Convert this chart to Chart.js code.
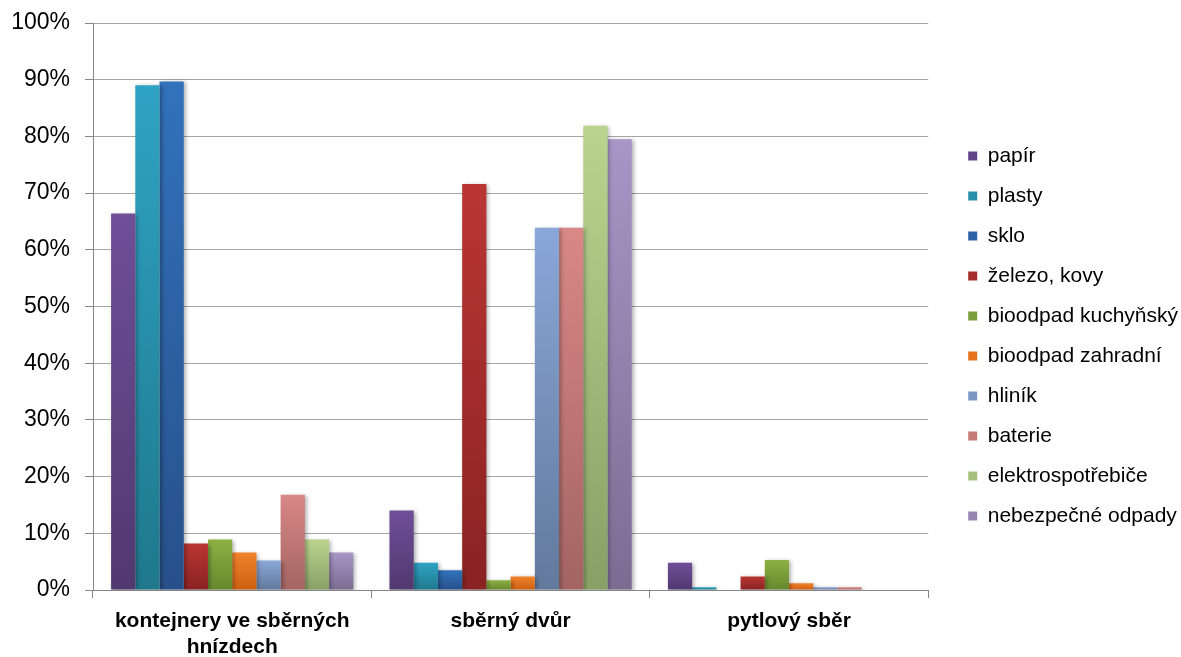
<!DOCTYPE html>
<html>
<head>
<meta charset="utf-8">
<script src="https://cdn.jsdelivr.net/npm/chart.js@4"></script>
<style>
  body { margin: 0; background: #fff; }
  #wrap { width: 1181px; height: 657px; position: relative; }
</style>
</head>
<body>
<div id="wrap"><canvas id="chart"></canvas></div>
<script>
const categories = [['kontejnery ve sběrných', 'hnízdech'], 'sběrný dvůr', 'pytlový sběr'];
const seriesNames = ['papír', 'plasty', 'sklo', 'železo, kovy', 'bioodpad kuchyňský',
  'bioodpad zahradní', 'hliník', 'baterie', 'elektrospotřebiče', 'nebezpečné odpady'];

// shares in %, one value per category
const papir = [66.4, 14.0, 4.8];
const plasty = [89.0, 4.8, 0.5];
const sklo = [89.7, 3.5, 0];
const zelezo = [8.2, 71.6, 2.4];
const bioKuchynsky = [8.9, 1.7, 5.3];
const bioZahradni = [6.6, 2.4, 1.2];
const hlinik = [5.2, 63.9, 0.5];
const baterie = [16.8, 63.9, 0.5];
const elektro = [8.9, 81.9, 0];
const nebezpecne = [6.6, 79.5, 0];

const yTicks = [0, 10, 20, 30, 40, 50, 60, 70, 80, 90, 100];

const seriesValues = [papir, plasty, sklo, zelezo, bioKuchynsky, bioZahradni, hlinik, baterie, elektro, nebezpecne];

// gradient colours (top -> bottom of each bar), plus flat colour for the legend
const topColors = ['#6F4F98', '#2FA3C4', '#3272BC', '#BA3634', '#8DB043', '#F2822C', '#89A7D8', '#D98886', '#BAD48F', '#A796C6'];
const bottomColors = ['#503870', '#1F788C', '#27508A', '#892222', '#66882E', '#CC6010', '#63799C', '#A36462', '#88A066', '#7C6C92'];
const legendColors = ['#604487', '#2A8FAA', '#2D62A6', '#A52D2B', '#7C9E3A', '#E6721C', '#7C97C4', '#C67A78', '#A7C07E', '#9585B0'];

const barFill = (i) => (ctx) => {
  const chart = ctx.chart;
  const y = chart.scales.y;
  if (!chart.chartArea || !y || ctx.raw == null) return legendColors[i];
  const top = y.getPixelForValue(ctx.raw);
  const bottom = y.getPixelForValue(0);
  if (bottom - top < 1) return topColors[i];
  const g = chart.ctx.createLinearGradient(0, top, 0, bottom);
  g.addColorStop(0, topColors[i]);
  g.addColorStop(1, bottomColors[i]);
  return g;
};

const barShadow = {
  id: 'barShadow',
  beforeDatasetsDraw(chart) {
    const c = chart.ctx;
    c.save();
    c.shadowColor = 'rgba(0,0,0,0.3)';
    c.shadowBlur = 4;
    c.shadowOffsetX = 2;
    c.shadowOffsetY = 1;
  },
  afterDatasetsDraw(chart) {
    chart.ctx.restore();
  },
};

const axisGray = '#868686';

new Chart(document.getElementById('chart'), {
  type: 'bar',
  data: {
    labels: categories,
    datasets: seriesNames.map((name, i) => ({
      label: name,
      data: seriesValues[i],
      backgroundColor: barFill(i),
      borderWidth: 0,
      categoryPercentage: 0.87,
      barPercentage: 1,
    })),
  },
  options: {
    responsive: true,
    maintainAspectRatio: false,
    animation: false,
    layout: { padding: { top: 23, right: -7, bottom: 0, left: 0 } },
    scales: {
      x: {
        afterFit: (scale) => { scale.height = 67; },
        grid: { display: true, drawOnChartArea: false, drawTicks: true, tickLength: 8, color: axisGray, offset: true },
        border: { color: axisGray },
        ticks: {
          color: '#000',
          padding: 11,
          maxRotation: 0,
          font: { family: '"Liberation Sans", Arial, sans-serif', size: 21, weight: 'bold' },
        },
      },
      y: {
        min: 0,
        max: 100,
        afterBuildTicks: (scale) => { scale.ticks = yTicks.map((v) => ({ value: v })); },
        afterFit: (scale) => {
          scale.width = 93;
          scale.paddingTop = 0;
          scale.paddingBottom = 0;
        },
        grid: { color: '#a6a6a6', tickLength: 8, tickColor: axisGray },
        border: { color: axisGray },
        ticks: {
          color: '#000',
          padding: 15,
          callback: (v) => v + '%',
          font: { family: '"Liberation Sans", Arial, sans-serif', size: 23 },
        },
      },
      gap: {
        type: 'linear',
        position: 'right',
        display: true,
        grid: { display: false },
        border: { display: false },
        ticks: { display: false },
        afterFit: (scale) => { scale.width = 21; },
      },
    },
    plugins: {
      tooltip: { enabled: false },
      legend: {
        position: 'right',
        align: 'start',
        maxWidth: 320,
        // empty title only pushes the legend column down
        title: { display: true, text: '', padding: 0, font: { size: 10, lineHeight: 10.35 } },
        labels: {
          color: '#000',
          boxWidth: 9,
          boxHeight: 9,
          padding: 19,
          font: { family: '"Liberation Sans", Arial, sans-serif', size: 21 },
          generateLabels: (chart) =>
            Chart.defaults.plugins.legend.labels.generateLabels(chart).map((item, i) => ({
              ...item,
              fillStyle: legendColors[i],
              strokeStyle: legendColors[i],
              lineWidth: 0,
            })),
        },
      },
    },
  },
  plugins: [barShadow],
});
</script>
</body>
</html>
